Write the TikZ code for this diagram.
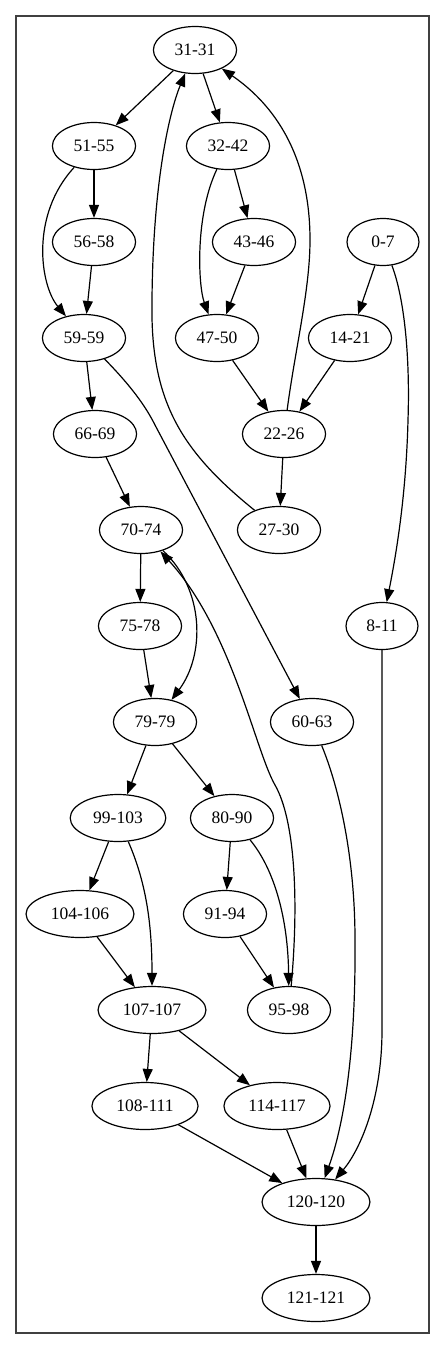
\documentclass[tikz,border=0pt]{standalone}
\usepackage{fontspec}
\setmainfont{Liberation Serif}
\usetikzlibrary{shapes.geometric,arrows.meta}

\begin{document}
\begin{tikzpicture}[x = 1pt, y = -1pt, line width = 1.2pt,
	blk/.style = {draw, ellipse, inner xsep = 9pt, inner ysep = 2pt, minimum width = 72pt, minimum height = 47pt, font = \fontsize{17.5}{17.5}\selectfont},
	edge/.style = {-{Triangle[length = 13pt, width = 10pt]}}]
\useasboundingbox (0 ,0) rectangle (445 ,1349);
\draw [line width = 1.4pt, black!75] (16 ,16) rectangle (429 ,1333);

\node [blk] (n31) at (195 ,50) {31-31};
\node [blk] (n51) at (94 ,146) {51-55};
\node [blk] (n32) at (228 ,146) {32-42};
\node [blk] (n56) at (94 ,242) {56-58};
\node [blk] (n43) at (254 ,242) {43-46};
\node [blk] (n0) at (383 ,242) {0-7};
\node [blk] (n59) at (84 ,338) {59-59};
\node [blk] (n47) at (217 ,338) {47-50};
\node [blk] (n14) at (350 ,338) {14-21};
\node [blk] (n66) at (95 ,434) {66-69};
\node [blk] (n22) at (284 ,434) {22-26};
\node [blk] (n70) at (141 ,530) {70-74};
\node [blk] (n27) at (279 ,530) {27-30};
\node [blk] (n75) at (140 ,626) {75-78};
\node [blk] (n8) at (382 ,626) {8-11};
\node [blk] (n79) at (155 ,722) {79-79};
\node [blk] (n60) at (312 ,722) {60-63};
\node [blk] (n99) at (118 ,818) {99-103};
\node [blk] (n80) at (232 ,818) {80-90};
\node [blk] (n104) at (80 ,914) {104-106};
\node [blk] (n91) at (225 ,914) {91-94};
\node [blk] (n107) at (152 ,1010) {107-107};
\node [blk] (n95) at (289 ,1010) {95-98};
\node [blk] (n108) at (145 ,1106) {108-111};
\node [blk] (n114) at (277 ,1106) {114-117};
\node [blk] (n120) at (316 ,1202) {120-120};
\node [blk] (n121) at (316 ,1298) {121-121};

\draw [edge] (n31) -- (n51);
\draw [edge] (n31) -- (n32);
\draw [edge] (n51) -- (n56);
\draw [edge] (n51) .. controls (30 ,215) and (40 ,285) .. (n59);
\draw [edge] (n32) -- (n43);
\draw [edge] (n32) .. controls (195 ,215) and (198 ,285) .. (n47);
\draw [edge] (n43) -- (n47);
\draw [edge] (n56) -- (n59);
\draw [edge] (n0) -- (n14);
\draw [edge] (n0) .. controls (405 ,300) and (410 ,360) .. (408 ,420) .. controls (406 ,500) and (395 ,560) .. (n8);
\draw [edge] (n47) -- (n22);
\draw [edge] (n14) -- (n22);
\draw [edge] (n22) .. controls (295 ,350) and (310 ,290) .. (310 ,240) .. controls (310 ,140) and (260 ,95) .. (n31);
\draw [edge] (n22) -- (n27);
\draw [edge] (n27) .. controls (180 ,450) and (150 ,400) .. (152 ,300) .. controls (153 ,180) and (170 ,110) .. (n31);
\draw [edge] (n59) -- (n66);
\draw [edge] (n59) .. controls (130 ,385) and (145 ,405) .. (155 ,425) -- (n60);
\draw [edge] (n66) -- (n70);
\draw [edge] (n70) -- (n75);
\draw [edge] (n70) .. controls (205 ,590) and (205 ,655) .. (n79);
\draw [edge] (n75) -- (n79);
\draw [edge] (n79) -- (n99);
\draw [edge] (n79) -- (n80);
\draw [edge] (n99) -- (n104);
\draw [edge] (n99) .. controls (145 ,880) and (152 ,920) .. (n107);
\draw [edge] (n104) -- (n107);
\draw [edge] (n80) -- (n91);
\draw [edge] (n80) .. controls (275 ,870) and (288 ,920) .. (n95);
\draw [edge] (n91) -- (n95);
\draw [edge] (n95) .. controls (299 ,900) and (295 ,820) .. (275 ,785) .. controls (255 ,750) and (232 ,630) .. (n70);
\draw [edge] (n107) -- (n108);
\draw [edge] (n107) -- (n114);
\draw [edge] (n108) -- (n120);
\draw [edge] (n114) -- (n120);
\draw [edge] (n60) .. controls (340 ,790) and (355 ,860) .. (355 ,940) .. controls (356 ,1060) and (342 ,1130) .. (n120);
\draw [edge] (n8) -- (382 ,1030) .. controls (382 ,1100) and (360 ,1150) .. (n120);
\draw [edge] (n120) -- (n121);
\end{tikzpicture}
\end{document}
